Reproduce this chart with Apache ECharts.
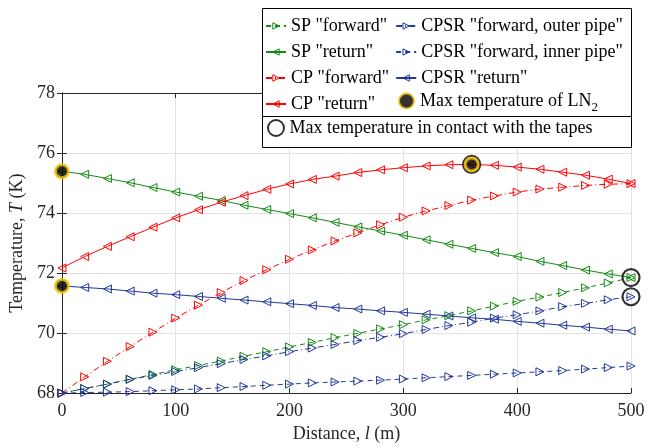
<!DOCTYPE html>
<html><head><meta charset="utf-8">
<script src="https://cdn.jsdelivr.net/npm/echarts@6/dist/echarts.min.js"></script>
<style>html,body{margin:0;padding:0;background:#fff}#c{width:660px;height:448px}</style>
</head><body><div id="c"></div>
<script>
const distance = [0,20,40,60,80,100,120,140,160,180,200,220,240,260,280,300,320,340,360,380,400,420,440,460,480,500];
const spForward = [68.00,68.15,68.30,68.46,68.62,68.78,68.92,69.07,69.23,69.38,69.54,69.69,69.85,69.99,70.14,70.28,70.44,70.58,70.74,70.90,71.06,71.20,71.35,71.51,71.67,71.85];
const spReturn = [75.39,75.29,75.15,75.01,74.85,74.70,74.56,74.42,74.26,74.12,73.98,73.84,73.69,73.54,73.40,73.26,73.11,72.96,72.82,72.68,72.55,72.39,72.25,72.10,71.97,71.85];
const cpForward = [68.00,68.54,69.06,69.55,70.03,70.50,70.93,71.35,71.75,72.11,72.46,72.77,73.07,73.34,73.61,73.86,74.07,74.25,74.43,74.57,74.70,74.80,74.86,74.92,74.96,74.98];
const cpReturn = [72.17,72.55,72.89,73.21,73.53,73.84,74.11,74.36,74.58,74.79,74.97,75.12,75.23,75.35,75.44,75.51,75.57,75.61,75.62,75.59,75.53,75.46,75.36,75.26,75.13,74.98];
const cpsrOuter = [68.00,68.15,68.30,68.46,68.59,68.72,68.85,68.98,69.12,69.24,69.38,69.50,69.62,69.75,69.86,69.98,70.12,70.25,70.36,70.50,70.61,70.74,70.88,70.99,71.11,71.21];
const cpsrInner = [68.00,68.02,68.03,68.05,68.08,68.11,68.14,68.18,68.22,68.26,68.30,68.34,68.37,68.40,68.43,68.47,68.51,68.55,68.59,68.63,68.67,68.71,68.75,68.80,68.85,68.90];
const cpsrReturn = [71.57,71.52,71.47,71.40,71.33,71.28,71.22,71.16,71.10,71.04,70.98,70.92,70.85,70.80,70.74,70.69,70.63,70.57,70.51,70.46,70.39,70.33,70.26,70.20,70.13,70.07];
const ln2MaxX = [0, 0, 360];
const ln2MaxT = [75.39, 71.57, 75.62];
const tapeMaxX = [360, 500, 500];
const tapeMaxT = [75.62, 71.85, 71.21];
const xTicks = {min: 0, max: 500, interval: 100};
const yTicks = {min: 68, max: 78, interval: 2};

const FONT = 'Liberation Serif';
const GREEN = '#138a13', RED = '#ff0000', BLUE = '#22389a', YELLOW = '#f2c400';
const DASH = [5, 4], DASHDOT = [6, 3, 1, 3];
const pairs = (xs, ys) => xs.map((x, i) => [x, ys[i]]);

function lineSeries(name, values, color, type, dir) {
  return {
    name, type: 'line', data: pairs(distance, values),
    symbol: 'triangle', symbolSize: 8, symbolRotate: dir === 'right' ? -90 : 90,
    clip: false,
    lineStyle: {color, width: 1, type},
    itemStyle: {color: 'rgba(255,255,255,0)', borderColor: color, borderWidth: 1},
    emphasis: {disabled: true}, z: 3
  };
}

const names = ['SP "forward"', 'SP "return"', 'CP "forward"', 'CP "return"',
  'CPSR "forward, outer pipe"', 'CPSR "forward, inner pipe"', 'CPSR "return"'];
const ln2Name = 'Max temperature of LN2';
const tapeName = 'Max temperature in contact with the tapes';

const chart = echarts.init(document.getElementById('c'));
const axisCommon = {
  axisLine: {show: true, lineStyle: {color: '#262626', width: 1}},
  axisTick: {show: true, inside: true, length: 5, lineStyle: {color: '#262626'}},
  splitLine: {show: false}
};
const legendText = {color: '#000', fontFamily: FONT, fontSize: 18, lineHeight: 20};
chart.setOption({
  animation: false,
  grid: {left: 61, right: 29, top: 93, bottom: 50},
  xAxis: [
    Object.assign({}, axisCommon, {type: 'value', position: 'bottom', min: xTicks.min, max: xTicks.max, interval: xTicks.interval,
      axisLabel: {color: '#262626', fontFamily: FONT, fontSize: 18, margin: 9},
      splitLine: {show: true, lineStyle: {color: '#e3e3e3', width: 1}},
      name: 'Distance, {i|l} (m)', nameLocation: 'middle', nameGap: 31,
      nameTextStyle: {color: '#262626', fontFamily: FONT, fontSize: 18, rich: {i: {fontStyle: 'italic', fontFamily: FONT, fontSize: 18, color: '#262626'}}}
    }),
    Object.assign({}, axisCommon, {type: 'value', position: 'top', min: xTicks.min, max: xTicks.max, interval: xTicks.interval,
      axisLabel: {show: false}})
  ],
  yAxis: [
    Object.assign({}, axisCommon, {type: 'value', position: 'left', min: yTicks.min, max: yTicks.max, interval: yTicks.interval,
      axisLabel: {color: '#262626', fontFamily: FONT, fontSize: 18, margin: 7},
      splitLine: {show: true, lineStyle: {color: '#e3e3e3', width: 1}},
      name: 'Temperature, {i|T} (K)', nameLocation: 'middle', nameGap: 27, nameRotate: 90,
      nameTextStyle: {color: '#262626', fontFamily: FONT, fontSize: 18, rich: {i: {fontStyle: 'italic', fontFamily: FONT, fontSize: 18, color: '#262626'}}}
    }),
    Object.assign({}, axisCommon, {type: 'value', position: 'right', min: yTicks.min, max: yTicks.max, interval: yTicks.interval,
      axisLabel: {show: false}})
  ],
  graphic: [
    {type: 'rect', z: 50, shape: {x: 262.5, y: 8.5, width: 369, height: 108}, style: {fill: '#fff', stroke: '#000', lineWidth: 1}},
    {type: 'rect', z: 50, shape: {x: 262.5, y: 116.5, width: 369, height: 31}, style: {fill: '#fff', stroke: '#000', lineWidth: 1}}
  ],
  legend: [
    {
      data: names, orient: 'vertical', left: 265, top: 16, height: 104, padding: 0,
      itemWidth: 20, itemHeight: 8, itemGap: 6, z: 60, selectedMode: false,
      itemStyle: {color: 'rgba(255,255,255,0)', borderWidth: 1},
      textStyle: legendText
    },
    {
      data: [ln2Name], orient: 'vertical', left: 398, top: 91, padding: 0,
      itemWidth: 17, itemHeight: 15, z: 60, selectedMode: false,
      textStyle: Object.assign({}, legendText, {
        rich: {t: {color: '#000', fontFamily: FONT, fontSize: 18, lineHeight: 20},
               s: {color: '#000', fontFamily: FONT, fontSize: 13, padding: [14, 0, 0, 0]}}}),
      formatter: () => '{t|Max temperature of LN}{s|2}'
    },
    {
      data: [tapeName], orient: 'vertical', left: 267, top: 118, padding: 0,
      itemWidth: 17, itemHeight: 16, z: 60, selectedMode: false,
      textStyle: legendText
    }
  ],
  series: [
    lineSeries(names[0], spForward, GREEN, DASH, 'right'),
    lineSeries(names[1], spReturn, GREEN, 'solid', 'left'),
    lineSeries(names[2], cpForward, RED, DASHDOT, 'right'),
    lineSeries(names[3], cpReturn, RED, 'solid', 'left'),
    lineSeries(names[4], cpsrOuter, BLUE, DASHDOT, 'right'),
    lineSeries(names[5], cpsrInner, BLUE, DASH, 'right'),
    lineSeries(names[6], cpsrReturn, BLUE, 'solid', 'left'),
    {name: tapeName, type: 'scatter', data: pairs(tapeMaxX, tapeMaxT), symbol: 'circle', symbolSize: 17, clip: false, z: 4,
      itemStyle: {color: 'rgba(255,255,255,0)', borderColor: '#000', borderWidth: 2.2}, emphasis: {disabled: true}},
    {name: ln2Name, type: 'scatter', data: pairs(ln2MaxX, ln2MaxT), symbol: 'circle', symbolSize: 13, clip: false, z: 5,
      itemStyle: {color: '#000', borderColor: YELLOW, borderWidth: 3}, emphasis: {disabled: true}}
  ]
});
</script></body></html>
